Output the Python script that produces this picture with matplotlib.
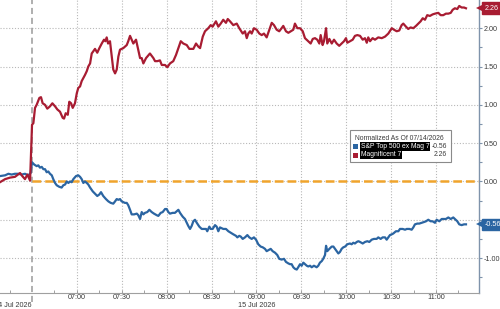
import matplotlib
matplotlib.use("Agg")
import matplotlib.pyplot as plt
import matplotlib.transforms as mtransforms
from matplotlib.patches import Rectangle
from matplotlib.ticker import FixedLocator, MultipleLocator

plt.rcParams['font.family'] = ['Liberation Sans', 'DejaVu Sans']

# ---------------- data (minutes from 06:30 session open; negatives = 14 Jul) ----------------
mag7_t = [-21.4, -18.0, -14.7, -11.4, -8.0, -6.5, -4.7, -3.1, -1.3,
          0.0, 0.9, 2.0, 3.1, 4.9, 6.0, 7.1, 8.7, 10.2, 12.0,
          13.6, 15.4, 16.9, 18.7, 20.5, 21.4, 22.5, 23.9, 24.9, 26.1,
          27.2, 28.7, 29.9, 30.9, 32.1, 33.2, 34.3, 35.4, 36.6, 37.6,
          38.8, 39.9, 42.1, 43.6, 45.0, 46.6, 48.1, 49.0, 49.9, 50.8,
          52.1, 53.3, 54.3, 55.5, 56.6, 57.7, 58.8, 61.0, 63.3, 64.3,
          65.5, 66.6, 67.7, 69.5, 71.0, 72.2, 73.3, 74.4, 76.2, 78.8,
          81.1, 82.2, 83.7, 85.5, 86.7, 88.9, 90.4, 92.2, 94.4, 96.2,
          97.8, 99.4, 101.1, 103.4, 105.1, 107.8, 109.6, 111.1, 112.3, 114.1,
          115.6, 117.8, 119.4, 120.7, 122.9, 124.5, 126.1, 127.8, 129.6, 130.8,
          132.3, 134.5, 136.8, 138.5, 140.8, 142.3, 143.5, 144.5, 145.7, 146.8,
          148.3, 150.1, 151.9, 153.5, 155.0, 156.8, 158.6, 160.2, 161.7, 163.5,
          165.2, 166.8, 167.9, 169.7, 171.3, 172.9, 174.6, 175.7, 177.3, 179.1,
          180.9, 182.4, 184.6, 186.2, 187.6, 189.1, 190.6, 192.0, 192.9, 194.2,
          195.1, 196.5, 197.3, 198.7, 200.3, 201.8, 203.6, 205.3, 206.9, 208.5,
          209.8, 210.7, 212.5, 214.3, 215.8, 217.4, 219.2, 221.0, 222.5, 223.7,
          224.7, 225.9, 227.6, 229.2, 231.4, 233.7, 235.9, 238.1, 240.4, 241.9,
          243.7, 245.4, 247.0, 248.1, 249.9, 251.4, 253.0, 254.8, 256.6, 258.1,
          259.7, 261.1, 262.6, 264.1, 265.9, 267.7, 269.3, 271.5, 273.1, 274.8,
          276.6, 278.2, 279.8, 281.1, 282.6, 284.2, 285.5, 287.1, 288.7, 290.0]
mag7_v = [-0.01, 0.03, 0.05, 0.06, 0.11, 0.07, 0.03, 0.09, 0.01,
          0.74, 0.76, 0.96, 1.00, 1.09, 1.10, 1.02, 1.00, 0.95, 0.98,
          1.02, 0.98, 0.94, 0.91, 0.83, 0.82, 0.89, 0.87, 1.04, 1.02,
          0.96, 1.02, 1.15, 1.22, 1.24, 1.31, 1.35, 1.39, 1.44, 1.50,
          1.54, 1.67, 1.73, 1.68, 1.74, 1.80, 1.85, 1.83, 1.88, 1.80,
          1.83, 1.63, 1.46, 1.41, 1.46, 1.63, 1.72, 1.74, 1.78, 1.83,
          1.90, 1.85, 1.80, 1.85, 1.72, 1.61, 1.61, 1.54, 1.61, 1.67,
          1.61, 1.57, 1.57, 1.58, 1.52, 1.52, 1.49, 1.54, 1.57, 1.65,
          1.74, 1.83, 1.80, 1.78, 1.73, 1.73, 1.80, 1.76, 1.74, 1.89,
          1.96, 2.00, 2.04, 2.02, 2.09, 2.02, 2.06, 2.11, 2.07, 2.12,
          2.09, 2.04, 2.06, 2.00, 1.93, 1.96, 1.87, 1.93, 1.96, 1.93,
          2.00, 1.98, 1.93, 1.91, 1.93, 1.88, 1.98, 2.07, 2.04, 1.98,
          1.96, 2.00, 2.03, 1.96, 1.94, 1.96, 1.98, 2.06, 2.00, 2.00,
          1.96, 1.87, 1.83, 1.80, 1.86, 1.87, 1.85, 1.80, 1.91, 1.78,
          1.83, 2.00, 1.80, 1.86, 1.80, 1.85, 1.80, 1.77, 1.80, 1.83,
          1.87, 1.81, 1.83, 1.85, 1.90, 1.91, 1.90, 1.85, 1.87, 1.81,
          1.88, 1.83, 1.87, 1.85, 1.88, 1.87, 1.89, 1.93, 2.00, 1.98,
          1.96, 1.97, 2.04, 2.06, 2.02, 1.99, 2.01, 2.00, 2.03, 2.06,
          2.09, 2.13, 2.11, 2.17, 2.16, 2.18, 2.19, 2.20, 2.17, 2.17,
          2.19, 2.19, 2.20, 2.24, 2.26, 2.25, 2.29, 2.27, 2.27, 2.26]

spx_t = [-21.4, -18.0, -15.8, -13.6, -11.4, -9.2, -6.9, -4.7, -2.5, -0.9,
         0.0, 1.5, 3.1, 4.2, 5.3, 6.5, 7.6, 8.7, 9.8, 10.9,
         12.0, 13.2, 14.2, 15.4, 16.5, 18.2, 19.8, 20.9, 22.1, 23.2,
         24.3, 25.4, 26.5, 27.6, 29.4, 30.9, 32.1, 33.2, 34.3, 35.4,
         36.6, 37.6, 38.8, 40.6, 42.1, 43.6, 45.0, 46.1, 47.6, 49.4,
         51.0, 52.6, 54.3, 55.5, 56.6, 57.7, 58.8, 59.9, 61.0, 62.1,
         63.3, 64.3, 65.5, 66.6, 68.2, 70.0, 71.0, 72.2, 73.3, 74.4,
         75.5, 77.0, 78.4, 80.0, 81.5, 83.3, 84.4, 86.0, 87.3, 88.9,
         90.0, 91.1, 92.2, 94.0, 95.5, 96.7, 97.8, 98.9, 100.7, 102.2,
         103.4, 104.4, 105.6, 106.7, 107.8, 108.9, 110.1, 111.8, 113.4, 114.9,
         116.3, 117.1, 118.5, 119.4, 120.7, 122.3, 123.4, 124.5, 125.6, 127.8,
         129.6, 131.2, 132.8, 134.5, 136.3, 137.2, 138.5, 139.5, 140.8, 142.3,
         143.9, 145.2, 146.8, 148.3, 149.7, 151.2, 152.8, 154.2, 155.7, 156.8,
         158.6, 159.5, 160.8, 162.4, 163.9, 165.2, 166.8, 168.4, 169.7, 171.3,
         172.4, 173.5, 174.6, 175.7, 176.9, 177.9, 179.1, 180.2, 181.3, 182.4,
         183.6, 184.6, 185.8, 186.9, 188.4, 190.2, 191.3, 192.4, 193.6, 194.6,
         195.8, 196.5, 197.3, 198.7, 200.3, 201.4, 202.5, 203.6, 204.7, 205.8,
         206.9, 208.0, 209.2, 210.7, 212.5, 213.6, 214.7, 215.8, 217.0, 218.1,
         219.2, 221.0, 222.5, 224.1, 225.4, 227.0, 228.5, 230.3, 231.4, 233.0,
         234.3, 235.9, 237.0, 238.1, 239.2, 240.4, 241.4, 243.2, 244.8, 245.9,
         247.7, 249.3, 250.4, 252.2, 253.7, 254.8, 255.9, 257.5, 258.8, 260.4,
         261.9, 263.3, 264.8, 266.4, 267.7, 269.3, 270.4, 272.2, 273.8, 275.3,
         276.6, 278.2, 279.8, 281.5, 282.6, 284.2, 285.5, 287.1, 288.7, 290.0]
spx_v = [0.07, 0.08, 0.10, 0.09, 0.10, 0.10, 0.09, 0.10, 0.08, 0.11,
         0.25, 0.22, 0.20, 0.21, 0.18, 0.19, 0.16, 0.16, 0.12, 0.13,
         0.10, 0.08, 0.03, -0.02, -0.05, -0.07, -0.08, -0.05, -0.04, 0.00,
         -0.02, 0.00, -0.01, 0.03, 0.07, 0.08, 0.06, 0.03, -0.02, 0.00,
         -0.02, -0.04, -0.08, -0.13, -0.16, -0.19, -0.17, -0.14, -0.19, -0.23,
         -0.26, -0.28, -0.29, -0.26, -0.23, -0.24, -0.23, -0.26, -0.27, -0.28,
         -0.28, -0.31, -0.37, -0.43, -0.43, -0.42, -0.44, -0.49, -0.40, -0.43,
         -0.41, -0.40, -0.37, -0.40, -0.42, -0.44, -0.45, -0.41, -0.40, -0.36,
         -0.36, -0.40, -0.42, -0.41, -0.41, -0.39, -0.37, -0.41, -0.46, -0.49,
         -0.54, -0.58, -0.62, -0.58, -0.52, -0.50, -0.54, -0.59, -0.62, -0.62,
         -0.62, -0.65, -0.59, -0.62, -0.62, -0.57, -0.59, -0.65, -0.60, -0.62,
         -0.62, -0.65, -0.67, -0.69, -0.71, -0.73, -0.71, -0.72, -0.75, -0.73,
         -0.70, -0.73, -0.75, -0.73, -0.76, -0.82, -0.85, -0.86, -0.88, -0.91,
         -0.89, -0.88, -0.91, -0.93, -0.96, -1.01, -1.02, -1.01, -1.05, -1.07,
         -1.08, -1.08, -1.12, -1.14, -1.15, -1.12, -1.08, -1.10, -1.06, -1.08,
         -1.10, -1.11, -1.10, -1.12, -1.10, -1.12, -1.10, -1.06, -1.04, -1.01,
         -0.96, -0.84, -0.91, -0.88, -0.85, -0.85, -0.88, -0.91, -0.94, -0.92,
         -0.88, -0.86, -0.85, -0.82, -0.81, -0.82, -0.80, -0.81, -0.79, -0.78,
         -0.79, -0.81, -0.79, -0.78, -0.79, -0.76, -0.75, -0.75, -0.73, -0.75,
         -0.73, -0.73, -0.76, -0.73, -0.70, -0.69, -0.68, -0.65, -0.65, -0.62,
         -0.62, -0.63, -0.62, -0.62, -0.63, -0.60, -0.56, -0.55, -0.55, -0.54,
         -0.53, -0.52, -0.50, -0.52, -0.52, -0.54, -0.50, -0.52, -0.49, -0.49,
         -0.49, -0.47, -0.49, -0.47, -0.49, -0.52, -0.56, -0.57, -0.56, -0.56]

assert len(mag7_t) == len(mag7_v) and len(spx_t) == len(spx_v)

series_names = ["S&P Top 500 ex Mag 7", "Magnificent 7"]
last_values = [-0.56, 2.26]
legend_title = "Normalized As Of 07/14/2026"
xtick_minutes = [30, 60, 90, 120, 150, 180, 210, 240, 270]
xtick_labels = ["07:00", "07:30", "08:00", "08:30", "09:00", "09:30", "10:00", "10:30", "11:00"]
date_labels = ["14 Jul 2026", "15 Jul 2026"]
session_break = 0.0
ytick_values = [-1.0, -0.5, 0.0, 0.5, 1.0, 1.5, 2.0]

RED = "#a81c32"
BLUE = "#2b65a2"
ORANGE = "#f0a42c"
GRID = "#b8b8b8"
TXT = "#3a3a3a"
FS = 5.2
FSL = 4.9

fig = plt.figure(figsize=(5.0, 3.09), dpi=100)
fig.patch.set_facecolor("white")
ax = fig.add_axes([0.0, 16 / 309, 479 / 500, 293 / 309])
ax.set_xlim(-21.4, 298.7)
ax.set_ylim(-1.456, 2.368)

# tick labels hidden where a last-value tag sits on top of them
tag_half_height = 0.09
ylabels = []
for v in ytick_values:
    covered = any(abs(v - lv) < tag_half_height for lv in last_values)
    ylabels.append("" if covered else f"{v:.2f}")

ax.set_xticks(xtick_minutes)
ax.set_xticklabels(xtick_labels)
ax.xaxis.set_minor_locator(FixedLocator([m for m in range(-15, 296, 15) if m % 30 != 0]))
ax.set_yticks(ytick_values)
ax.set_yticklabels(ylabels)
ax.yaxis.set_minor_locator(MultipleLocator(0.25))
ax.grid(True, which="major", color=GRID, linestyle=(0, (1, 1.6)), linewidth=0.8)
ax.set_axisbelow(True)

ax.yaxis.tick_right()
for s in ["left", "top"]:
    ax.spines[s].set_visible(False)
ax.spines["right"].set_color("#7f93ab")
ax.spines["right"].set_linewidth(1.0)
ax.spines["bottom"].set_color("#a0a0a0")
ax.spines["bottom"].set_linewidth(0.8)
ax.tick_params(axis="y", which="both", direction="out", colors="#7f93ab", labelcolor=TXT,
               labelsize=FS, length=2.0, width=0.8, pad=1.5)
ax.tick_params(axis="x", which="both", direction="in", colors="#a0a0a0", labelcolor=TXT,
               labelsize=FS, length=2.0, width=0.7, pad=1.0)

# session break
ax.axvline(session_break, ymin=-0.03, ymax=1.0, color="#9a9a9a", linestyle=(0, (4, 2.5)),
           linewidth=1.1, clip_on=False, zorder=2)
# zero line
ax.plot([session_break, ax.get_xlim()[1]], [0, 0], color=ORANGE, linestyle=(0, (3.5, 1.6)),
        linewidth=1.8, zorder=3)

ax.plot(spx_t, spx_v, color=BLUE, linewidth=1.6, zorder=4, solid_joinstyle="round")
ax.plot(mag7_t, mag7_v, color=RED, linewidth=1.6, zorder=5, solid_joinstyle="round")

# date labels
trans = mtransforms.blended_transform_factory(ax.transData, ax.transAxes)
ax.text(session_break - 0.5, -0.041, date_labels[0], transform=trans, ha="right", va="center",
        fontsize=FS, color=TXT)
ax.text(150, -0.041, date_labels[1], transform=trans, ha="center", va="center",
        fontsize=FS, color=TXT)

# last-value tags on right axis
ytrans = mtransforms.blended_transform_factory(ax.transAxes, ax.transData)
for val, col in zip(last_values, [BLUE, RED]):
    ax.plot([1.0], [val], transform=ytrans, marker="<", markersize=5, color=col,
            markeredgewidth=0, clip_on=False, zorder=9, linestyle="none")
    ax.annotate(f"{val:.2f}", xy=(1.0, val), xycoords=ytrans, xytext=(3.8, 0),
                textcoords="offset points", ha="left", va="center",
                fontsize=FS, color="white", annotation_clip=False, zorder=10,
                bbox=dict(boxstyle="square,pad=0.32", facecolor=col, edgecolor=col))

# legend box (figure pixel coords)
W, H = 500, 309
def fx(x):
    return x / W
def fy(y):
    return 1 - y / H
fig.patches.append(Rectangle((fx(350), fy(162)), (451 - 350) / W, (162 - 130) / H,
                             transform=fig.transFigure, facecolor="white",
                             edgecolor="#8a8a8a", linewidth=0.8, zorder=20))
fig.text(fx(355), fy(138), legend_title, fontsize=FSL, color=TXT, va="center", ha="left", zorder=21)
rows_y = [146.5, 155]
for name, val, col, yy in zip(series_names, last_values, [BLUE, RED], rows_y):
    fig.patches.append(Rectangle((fx(353), fy(yy + 2.5)), 5 / W, 5 / H, transform=fig.transFigure,
                                 facecolor=col, edgecolor="none", zorder=21))
    fig.text(fx(361), fy(yy), name, fontsize=FSL, color="white", va="center", ha="left", zorder=22,
             bbox=dict(boxstyle="square,pad=0.12", facecolor="black", edgecolor="none"))
    fig.text(fx(447), fy(yy), f"{val:.2f}", fontsize=FSL, color=TXT, va="center", ha="right", zorder=22)

fig.savefig("out.png", dpi=100, facecolor="white")
